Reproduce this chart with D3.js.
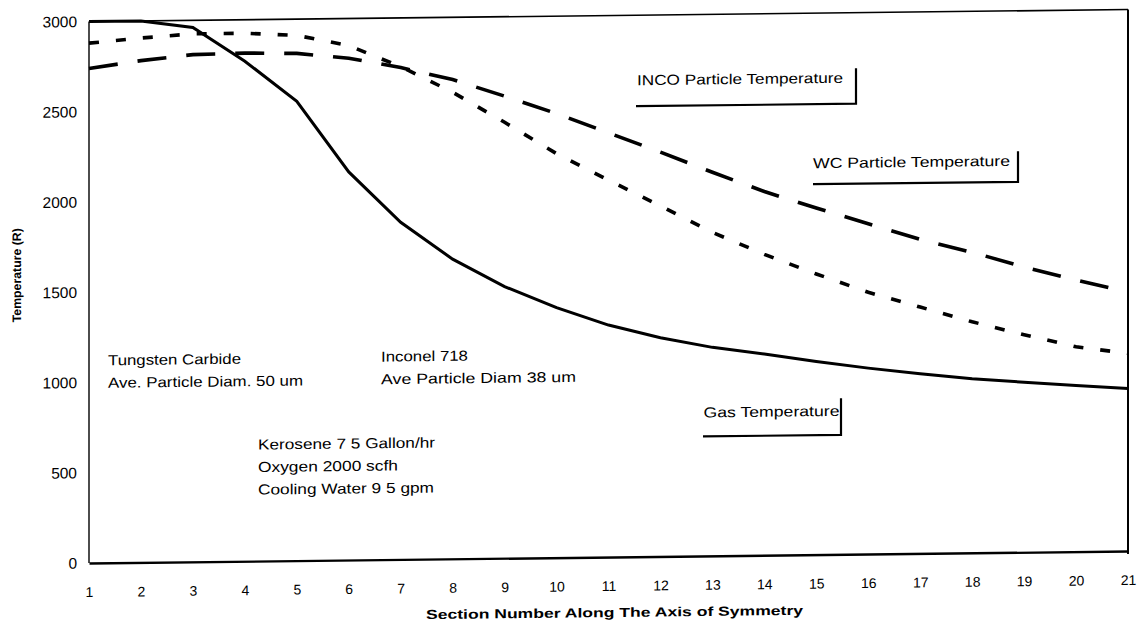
<!DOCTYPE html>
<html><head><meta charset="utf-8">
<script src="https://cdn.jsdelivr.net/npm/d3@7"></script>
<style>
body{margin:0;background:#fff;}
svg text{font-family:"Liberation Sans",Arial,sans-serif;fill:#000;}
</style>
</head><body>
<svg id="chart" width="1144" height="630"></svg>
<script>
// ---- data ----
const sections = [1,2,3,4,5,6,7,8,9,10,11,12,13,14,15,16,17,18,19,20,21];
const yTickValues = [0,500,1000,1500,2000,2500,3000];
const gasTemp  = [3000,3000,2960,2770,2545,2150,1868,1660,1505,1385,1285,1212,1155,1115,1070,1030,995,965,942,920,900];
const wcTemp   = [2740,2780,2810,2815,2810,2780,2725,2655,2560,2460,2350,2240,2125,2015,1920,1830,1740,1665,1580,1505,1435];
const incoTemp = [2880,2905,2925,2925,2910,2850,2730,2585,2415,2238,2088,1942,1792,1667,1555,1450,1365,1280,1205,1135,1095];
const seriesLabels = ["INCO Particle Temperature","WC Particle Temperature","Gas Temperature"];
const wcNote = ["Tungsten Carbide","Ave. Particle Diam. 50 um"];
const incoNote = ["Inconel 718","Ave  Particle Diam  38 um"];
const runNote = ["Kerosene 7 5 Gallon/hr","Oxygen 2000 scfh","Cooling Water 9 5 gpm"];
const xTitle = "Section Number Along The Axis of Symmetry";
const yTitle = "Temperature (R)";

// ---- layout ----
const svg = d3.select("#chart");
const X0 = 89, X1 = 1128, Y0 = 563, Y1 = 21.5;
const shear = 0.0115;
const x = d3.scaleLinear().domain([1,21]).range([X0,X1]);
const y = d3.scaleLinear().domain([0,3000]).range([Y0,Y1]);

const g = svg.append("g")
  .attr("transform", `matrix(1,${-shear},0,1,0,${shear*X0})`);

// frame
g.append("line").attr("x1",X0).attr("x2",X1).attr("y1",Y1).attr("y2",Y1).attr("stroke","#000").attr("stroke-width",1.6);
g.append("line").attr("x1",X0).attr("x2",X0).attr("y1",Y1).attr("y2",Y0).attr("stroke","#000").attr("stroke-width",1.4);
g.append("line").attr("x1",X1).attr("x2",X1).attr("y1",Y1).attr("y2",Y0+3).attr("stroke","#000").attr("stroke-width",2);

// axes
const xAxis = d3.axisBottom(x).tickValues(sections).tickSize(0).tickPadding(24).tickFormat(d3.format("d"));
const xg = g.append("g").attr("transform",`translate(0,${Y0})`).call(xAxis);
xg.select(".domain").attr("stroke","#000").attr("stroke-width",2.4);
xg.selectAll("text").attr("font-size",14).attr("fill","#000").attr("font-family","Liberation Sans, Arial, sans-serif");

const yAxis = d3.axisLeft(y).tickValues(yTickValues).tickSize(0).tickPadding(12).tickFormat(d3.format("d"));
const yg = g.append("g").attr("transform",`translate(${X0},0)`).call(yAxis);
yg.select(".domain").remove();
yg.selectAll("text").attr("font-size",15.5).attr("fill","#000").attr("font-family","Liberation Sans, Arial, sans-serif");

// axis titles
g.append("text").attr("x",(426+803)/2).attr("y",623)
  .attr("text-anchor","middle").attr("font-weight","bold").attr("font-size",13)
  .attr("textLength",377).attr("lengthAdjust","spacingAndGlyphs").text(xTitle);
g.append("text").attr("transform","translate(21,274.5) rotate(-90)")
  .attr("text-anchor","middle").attr("font-weight","bold").attr("font-size",12.3).text(yTitle);

// series
const line = d3.line().x((d,i)=>x(sections[i])).y(d=>y(d));
g.append("path").datum(incoTemp).attr("d",line).attr("fill","none").attr("stroke","#000")
  .attr("stroke-width",3.6).attr("stroke-dasharray","10,17");
g.append("path").datum(wcTemp).attr("d",line).attr("fill","none").attr("stroke","#000")
  .attr("stroke-width",3.6).attr("stroke-dasharray","29,20");
g.append("path").datum(gasTemp).attr("d",line).attr("fill","none").attr("stroke","#000")
  .attr("stroke-width",3);

// callout labels
function callout(label, tx, ty, w, ux0, ux1, uy, barTop){
  g.append("text").attr("x",tx).attr("y",ty).attr("font-size",14.5)
    .attr("textLength",w).attr("lengthAdjust","spacingAndGlyphs").text(label);
  g.append("path").attr("d",`M${ux0},${uy}H${ux1}V${barTop}`)
    .attr("fill","none").attr("stroke","#000").attr("stroke-width",2.2);
}
callout(seriesLabels[0], 637, 91.5, 206, 636, 856, 112.5, 77);
callout(seriesLabels[1], 813, 176.5, 197, 813, 1018, 192.5, 162);
callout(seriesLabels[2], 703.5, 424.5, 136, 703, 841, 443.5, 407);

// notes
function note(lines, tx, ty, widths){
  lines.forEach((s,i)=>{
    g.append("text").attr("x",tx).attr("y",ty+i*22.5).attr("font-size",14.5)
      .attr("textLength",widths[i]).attr("lengthAdjust","spacingAndGlyphs").text(s);
  });
}
note(wcNote, 108, 365.5, [133,195]);
note(incoNote, 381, 365, [87,195]);
note(runNote, 258, 451.5, [177,140,176]);
</script>
</body></html>
